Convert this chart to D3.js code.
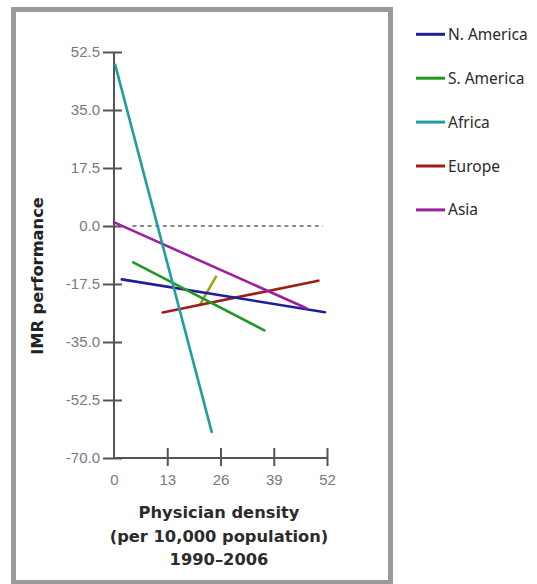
<!DOCTYPE html>
<html>
<head>
<meta charset="utf-8">
<script src="https://cdn.jsdelivr.net/npm/d3@7"></script>
<style>
  html, body { margin: 0; padding: 0; background: #fff; }
  svg { display: block; }
</style>
</head>
<body>
<svg id="chart" width="537" height="584"></svg>
<script>
// Regional trend lines: IMR performance against physician density
const regions = ["N. America", "S. America", "Africa", "Europe", "Asia"];
const colors = ["#1f1f9c", "#1f9a1f", "#1f9e9e", "#9e1c1c", "#a01fa0"];

// Each series: [physician density, IMR performance] end points
const nAmerica = [[1.9, -16.1], [51.5, -26.0]];
const sAmerica = [[4.7, -11.0], [36.7, -31.5]];
const africa   = [[0.3, 48.6], [23.85, -62.1]];
const europe   = [[11.9, -26.1], [49.9, -16.5]];
const asia     = [[0.2, 1.0], [47.0, -24.8]];
// Short unlabelled segment
const other    = [[20.96, -23.8], [24.9, -15.3]];
const otherColor = "#a0a020";

const xTicks = [0, 13, 26, 39, 52];
const yTicks = [52.5, 35.0, 17.5, 0.0, -17.5, -35.0, -52.5, -70.0];
const zeroLine = [[4.5, 0], [51, 0]];

const svg = d3.select("#chart");

// Outer frame
svg.append("rect")
  .attr("x", 13.5).attr("y", 9.5)
  .attr("width", 377).attr("height", 573)
  .attr("fill", "none")
  .attr("stroke", "#9b9b9b")
  .attr("stroke-width", 5);

const x = d3.scaleLinear().domain([0, 52]).range([114, 327]);
const y = d3.scaleLinear().domain([-70, 52.5]).range([458, 52]);

const axisColor = "#555";
const tickColor = "#77778a";
// plain hyphen for negative values
const fmtY = d => d.toFixed(1);

// Y axis
const yAxis = svg.append("g")
  .attr("transform", `translate(${x(0)},0)`)
  .call(d3.axisLeft(y).tickValues(yTicks).tickFormat(fmtY).tickSize(11).tickPadding(3));
yAxis.select(".domain").attr("stroke", axisColor).attr("stroke-width", 2)
  .attr("d", `M0,${y(52.5)}V${y(-70)}`);
yAxis.selectAll(".tick line")
  .attr("stroke", axisColor).attr("stroke-width", 2)
  .attr("x1", 8).attr("x2", -11);
yAxis.selectAll(".tick text")
  .attr("fill", tickColor)
  .style("font-family", "'Liberation Sans', Arial, sans-serif")
  .style("font-size", "15px");

// X axis
const xAxis = svg.append("g")
  .attr("transform", `translate(0,${y(-70)})`)
  .call(d3.axisBottom(x).tickValues(xTicks).tickFormat(d => String(d)).tickSize(8).tickPadding(8));
xAxis.select(".domain").attr("stroke", axisColor).attr("stroke-width", 2)
  .attr("d", `M${x(0)},0H${x(52)}`);
xAxis.selectAll(".tick line")
  .attr("stroke", axisColor).attr("stroke-width", 2)
  .attr("y1", -10).attr("y2", 8)
  .style("display", d => d === 0 ? "none" : null);
xAxis.selectAll(".tick text")
  .attr("fill", tickColor)
  .style("font-family", "'Liberation Sans', Arial, sans-serif")
  .style("font-size", "15px");

// Dashed zero reference line
const line = d3.line().x(d => x(d[0])).y(d => y(d[1]));
svg.append("path")
  .attr("d", line(zeroLine))
  .attr("fill", "none")
  .attr("stroke", "#8a8a8a")
  .attr("stroke-width", 2)
  .attr("stroke-dasharray", "4,3.6");

// Trend lines (drawn in an order that keeps the overlaps looking right)
const series = [
  { data: other, color: otherColor },
  { data: europe, color: colors[3] },
  { data: nAmerica, color: colors[0] },
  { data: sAmerica, color: colors[1] },
  { data: asia, color: colors[4] },
  { data: africa, color: colors[2] }
];
svg.append("g").selectAll("path")
  .data(series)
  .join("path")
  .attr("d", d => line(d.data))
  .attr("fill", "none")
  .attr("stroke", d => d.color)
  .attr("stroke-width", 2.6)
  .attr("stroke-linecap", "round");

// Axis titles
const titleFont = "'DejaVu Sans', Verdana, sans-serif";
svg.append("text")
  .attr("transform", "translate(43,276) rotate(-90)")
  .attr("text-anchor", "middle")
  .attr("fill", "#222")
  .style("font-family", titleFont)
  .style("font-weight", "bold")
  .style("font-size", "16.3px")
  .text("IMR performance");

const xTitle = ["Physician density", "(per 10,000 population)", "1990–2006"];
svg.append("g").selectAll("text")
  .data(xTitle)
  .join("text")
  .attr("x", 219)
  .attr("y", (d, i) => 518 + i * 23.5)
  .attr("text-anchor", "middle")
  .attr("fill", "#2b2b2b")
  .style("font-family", titleFont)
  .style("font-weight", "bold")
  .style("font-size", "16.3px")
  .text(d => d);

// Legend
const legend = svg.append("g").selectAll("g")
  .data(regions)
  .join("g")
  .attr("transform", (d, i) => `translate(416,${34.3 + i * 43.9})`);
legend.append("line")
  .attr("x1", 0).attr("x2", 29)
  .attr("stroke", (d, i) => colors[i])
  .attr("stroke-width", 3);
legend.append("text")
  .attr("x", 32)
  .attr("y", 5.5)
  .attr("fill", "#2a2a2a")
  .style("font-family", "'Noto Sans', sans-serif")
  .style("font-size", "15.5px")
  .text(d => d);
</script>
</body>
</html>
